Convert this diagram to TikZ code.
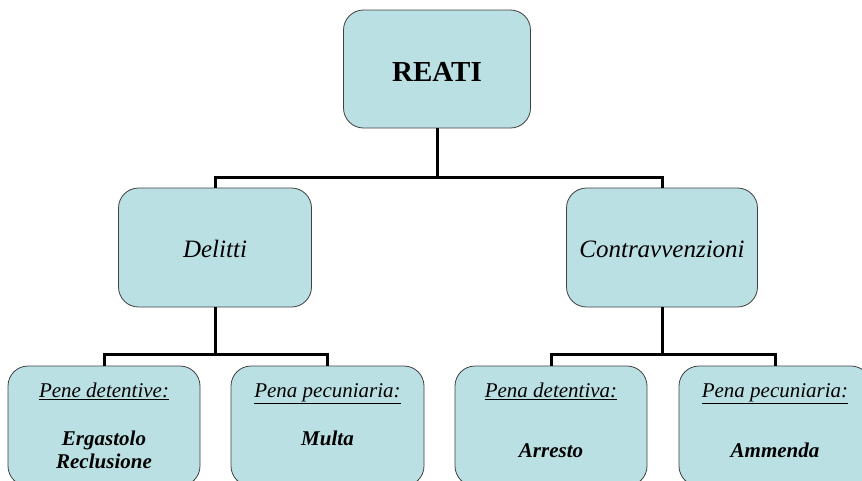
\documentclass[tikz,border=0pt]{standalone}
\usepackage{fontspec}
\setmainfont{Liberation Serif}
\begin{document}
\begin{tikzpicture}[x=1pt,y=-1pt,
  box/.style={draw=black!75, line width=0.8pt, fill=boxfill, rounded corners=20pt, inner sep=0pt},
  conn/.style={draw=black, line width=3pt},
  lbl/.style={inner sep=0pt, align=center, anchor=base},
  head/.style={lbl, font=\fontsize{21}{23}\selectfont\itshape},
  body/.style={lbl, font=\fontsize{21}{23}\selectfont\bfseries\itshape}]
\definecolor{boxfill}{HTML}{BAE0E3}
\useasboundingbox (0,0) rectangle (862,480);
\clip (0,0) rectangle (862,480);
% top
\node[box, minimum width=187pt, minimum height=118pt] (reati) at (437,69) {};
\node[lbl, font=\fontsize{29}{30}\selectfont\bfseries] (treati) at (437,81) {REATI};
% middle
\node[box, minimum width=193pt, minimum height=119pt] (delitti) at (215,247.5) {};
\node[lbl, font=\fontsize{25}{26}\selectfont\itshape] (tdelitti) at (215,257) {Delitti};
\node[box, minimum width=191pt, minimum height=119pt] (contr) at (662,247.5) {};
\node[lbl, font=\fontsize{25}{26}\selectfont\itshape] (tcontr) at (662,257) {Contravvenzioni};
% bottom
\node[box, minimum width=192pt, minimum height=120pt] (b1) at (104,426) {};
\node[box, minimum width=193pt, minimum height=120pt] (b2) at (327.5,426) {};
\node[box, minimum width=192pt, minimum height=120pt] (b3) at (551,426) {};
\node[box, minimum width=192pt, minimum height=120pt] (b4) at (775,426) {};
\node[head] (h1) at (104,397) {\underline{Pene detentive:}};
\node[body] (t1) at (104,468) {Ergastolo\\Reclusione};
\node[head] (h2) at (327.5,397) {\underline{Pena pecuniaria:}};
\node[body] (t2) at (327.5,445) {Multa};
\node[head] (h3) at (551,397) {\underline{Pena detentiva:}};
\node[body] (t3) at (551,457) {Arresto};
\node[head] (h4) at (775,397) {\underline{Pena pecuniaria:}};
\node[body] (t4) at (775,457) {Ammenda};
% connectors
\draw[conn] (reati.south) -- (reati.south |- 0,177) -| (delitti.north);
\draw[conn] (reati.south |- 0,177) -| (contr.north);
\draw[conn] (delitti.south) -- (delitti.south |- 0,354) -| (b1.north);
\draw[conn] (delitti.south |- 0,354) -| (b2.north);
\draw[conn] (contr.south) -- (contr.south |- 0,354) -| (b3.north);
\draw[conn] (contr.south |- 0,354) -| (b4.north);
\end{tikzpicture}
\end{document}
